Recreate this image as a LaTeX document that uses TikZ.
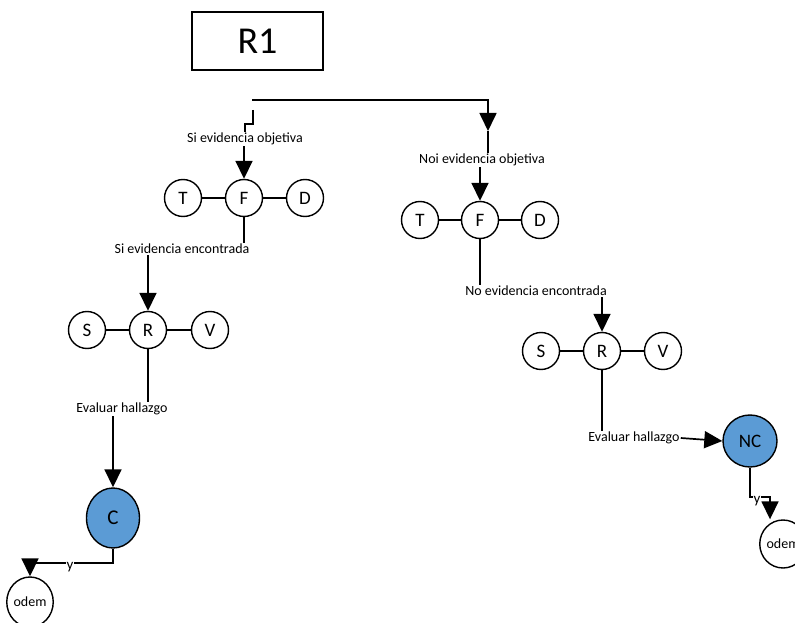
\documentclass[tikz,border=0pt]{standalone}
\usepackage{fontspec}
\setmainfont{Carlito}
\usetikzlibrary{arrows.meta,shapes.geometric}
\definecolor{nodeblue}{HTML}{5B9BD5}
\tikzset{
  conn/.style={line width=1.7pt},
  arr/.style={conn,-{Triangle[length=18pt,width=17pt]}},
  lab/.style={inner sep=1pt,font=\fontsize{14}{16}\selectfont},
  small/.style={circle,draw,line width=1.4pt,fill=white,minimum size=37pt,inner sep=0pt,font=\fontsize{19}{21}\selectfont},
  big/.style={ellipse,draw,line width=1.4pt,fill=nodeblue,inner sep=0pt},
  endn/.style={ellipse,draw,line width=1.4pt,fill=white,inner sep=0pt,font=\fontsize{14}{16}\selectfont},
}
\begin{document}
\begin{tikzpicture}[x=1pt,y=-1pt]
\useasboundingbox (0,0) rectangle (795,623);
% top box
\node[draw,line width=1.2pt,minimum width=131pt,minimum height=58pt,font=\fontsize{38}{40}\selectfont] (R1) at (257.5,41) {R1};
% left branch
\node[lab] (lab1) at (245,139) {Si evidencia objetiva};
\node[small] (F1) at (244,198) {F};
\node[small] (T1) at (183,198) {T};
\node[small] (D1) at (305,198) {D};
\node[lab] (lab2) at (182,249) {Si evidencia encontrada};
\node[small] (R) at (148,330) {R};
\node[small] (S) at (87,330) {S};
\node[small] (V) at (210,330) {V};
\node[lab] (lab3) at (122,409) {Evaluar hallazgo};
\node[big,minimum width=53pt,minimum height=60pt,font=\fontsize{21}{23}\selectfont] (C) at (113,518) {C};
\node[endn,minimum width=44pt,minimum height=50pt] (odem1) at (30,602) {odem};
% right branch
\node[lab] (lab4) at (482,160) {Noi evidencia objetiva};
\node[small] (F2) at (480,220) {F};
\node[small] (T2) at (420,220) {T};
\node[small] (D2) at (540,220) {D};
\node[lab] (lab5) at (536,291) {No evidencia encontrada};
\node[small] (R2) at (602,351) {R};
\node[small] (S2) at (541,351) {S};
\node[small] (V2) at (663,351) {V};
\node[lab] (lab6) at (634,438) {Evaluar hallazgo};
\node[big,minimum width=54pt,minimum height=52pt,font=\fontsize{19}{21}\selectfont] (NC) at (750,441) {NC};
\node[endn,minimum width=46pt,minimum height=48pt] (odem2) at (783,544) {odem};
% coordinates
\coordinate (s1) at (252,100);
\coordinate (m1) at (488,131);
\coordinate (a) at (253,110);
\coordinate (b) at (245,124);
\coordinate (k) at (30,563);
\coordinate (k2) at (770,497);
% connectors top
\draw[arr] (s1) -| (m1);
\draw[conn] (m1) -- (lab4.north -| m1);
\draw[conn] (a) |- (b) -- (lab1.north -| b);
% left
\draw[arr] (lab1.south -| F1) -- (F1.north);
\draw[conn] (T1) -- (F1) -- (D1);
\draw[conn] (F1.south) -- (lab2.north -| F1);
\draw[arr] (lab2.south -| R) -- (R.north);
\draw[conn] (S) -- (R) -- (V);
\draw[conn] (R.south) -- (lab3.north -| R);
\draw[arr] (lab3.south -| C) -- (C.north);
\draw[arr] (C.south) |- (k) -- (odem1.north);
\node[fill=white,inner sep=0.5pt,font=\fontsize{15}{17}\selectfont] (y1) at (70,567) {y};
% right
\draw[arr] (lab4.south -| F2) -- (F2.north);
\draw[conn] (T2) -- (F2) -- (D2);
\draw[conn] (F2.south) -- (lab5.north -| F2);
\draw[arr] (lab5.south -| R2) -- (R2.north);
\draw[conn] (S2) -- (R2) -- (V2);
\draw[conn] (R2.south) -- (lab6.north -| R2);
\draw[arr] (lab6.east) -- (NC.west);
\draw[arr] (NC.south) |- (k2) -- (k2 |- odem2.north);
\node[fill=white,inner sep=0.5pt,font=\fontsize{15}{17}\selectfont] (y2) at (757,501) {y};
\end{tikzpicture}
\end{document}
